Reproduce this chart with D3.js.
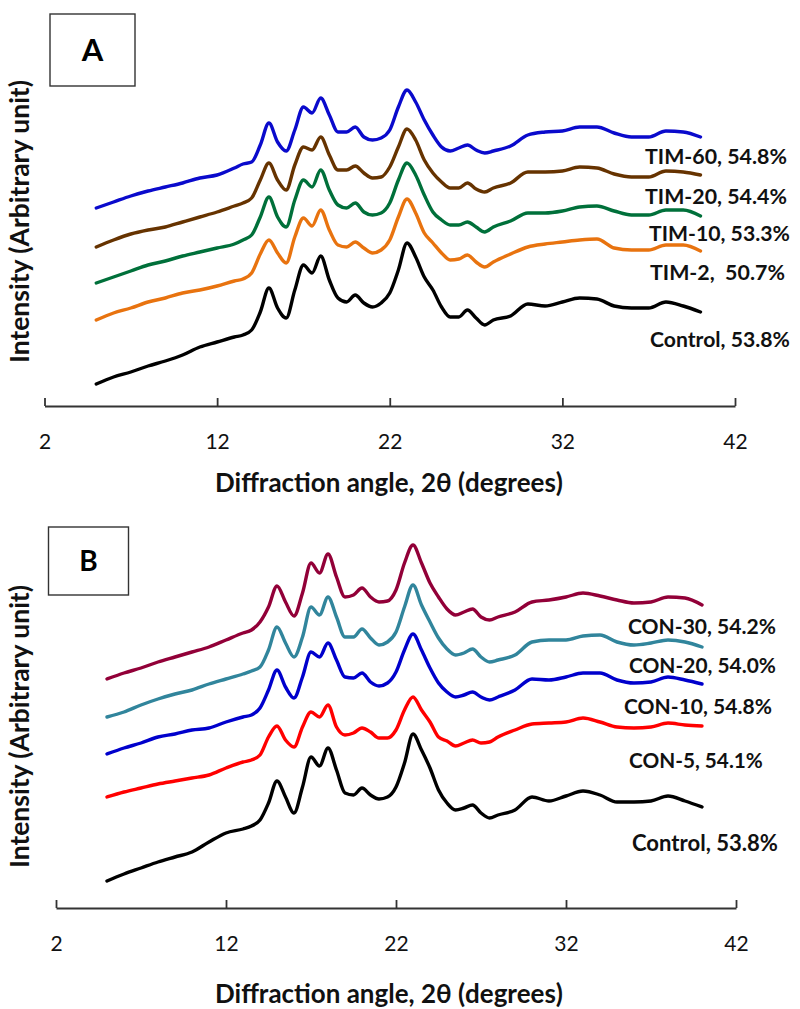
<!DOCTYPE html>
<html>
<head>
<meta charset="utf-8">
<script src="https://cdn.jsdelivr.net/npm/d3@7"></script>
<style>
  html, body { margin: 0; padding: 0; background: #fff; }
  svg { display: block; font-family: Lato, "Open Sans", sans-serif; }
</style>
</head>
<body>
<svg id="chart" width="800" height="1009"></svg>
<script>
// 2θ sampling shared by every pattern
const theta = [5,6,7,8,9,10,11,12,13,13.5,14,14.5,15,15.5,16,16.5,17,17.5,18,18.5,19,19.5,20,20.5,21,21.5,22,22.5,23,23.5,24,24.5,25,25.5,26,26.5,27,27.5,28,29,30,31,32,33,34,35,36,37,38,39,40];

// Panel A – stacked intensities (arbitrary units, offset applied)
const tim60 = [198,204,210,215,219,223,228,231,238,242,244,261,283,264,255,276,299,293,308,291,274,274,279,269,266,268,276,299,316,304,286,271,259,255,258,261,256,253,255,260,271,274,275,279,279,273,269,269,275,274,269];
const tim20 = [159,166,172,176,179,184,189,194,200,203,208,226,243,226,216,241,259,256,269,251,236,236,240,233,228,229,239,259,277,266,246,233,224,218,218,223,217,214,218,223,234,234,235,239,238,232,229,229,235,234,231];
const tim10 = [123,129,135,141,145,150,154,158,162,166,171,189,209,189,179,206,226,219,236,216,201,198,203,194,191,193,203,226,243,231,211,194,186,181,181,184,179,174,179,185,193,193,195,199,200,195,191,191,196,196,190];
const tim2 = [86,93,98,104,108,113,116,120,125,127,133,152,166,153,143,169,188,180,196,176,161,159,164,158,153,156,166,189,207,193,173,163,153,146,147,151,144,139,144,152,159,162,164,166,167,158,156,156,161,161,155];
const controlA = [22,29,34,40,45,51,59,64,69,71,76,94,118,98,88,116,141,133,150,126,108,104,111,103,99,103,113,136,163,149,129,116,99,89,89,96,88,81,86,90,102,100,104,108,107,100,98,98,104,100,94];

// Panel B – stacked intensities (arbitrary units, offset applied)
const con30 = [229,235,240,246,251,256,261,268,275,278,286,301,322,306,292,315,345,335,354,331,311,313,320,311,306,307,318,345,363,345,325,311,299,293,296,299,291,288,291,296,306,308,311,315,312,308,305,306,311,310,303];
const con20 = [191,196,203,209,214,218,224,229,234,237,241,258,281,265,251,271,301,293,311,291,271,271,279,270,263,266,276,301,323,303,286,270,259,253,255,259,251,246,248,253,266,268,268,272,273,266,263,265,268,266,261];
const con10 = [154,160,165,171,174,178,180,186,191,193,200,218,238,221,210,231,256,251,265,248,231,230,235,226,222,225,236,258,274,258,240,225,216,211,213,216,211,208,211,218,229,228,231,235,235,228,225,226,231,228,224];
const con5 = [111,116,120,124,127,130,133,140,146,148,153,171,182,168,161,181,196,191,203,181,173,175,180,176,170,170,178,198,211,198,186,171,167,162,165,168,165,166,171,178,184,185,186,190,186,181,180,181,185,183,182];
const controlB = [27,34,40,46,51,56,66,75,79,82,88,105,127,111,95,121,151,142,160,138,115,113,120,113,109,111,121,145,174,158,140,118,105,98,100,103,95,90,93,98,111,107,112,117,113,106,106,107,112,107,101];

// Series names and axis ticks
const namesA = ["TIM-60, 54.8%", "TIM-20, 54.4%", "TIM-10, 53.3%", "TIM-2,  50.7%", "Control, 53.8%"];
const namesB = ["CON-30, 54.2%", "CON-20, 54.0%", "CON-10, 54.8%", "CON-5, 54.1%", "Control, 53.8%"];
const xTicks = [2, 12, 22, 32, 42];
const xTitle = "Diffraction angle, 2θ (degrees)";
const yTitle = "Intensity (Arbitrary unit)";

// ---- layout & styles ----
const panels = [
  {
    letter: "A",
    series: [tim60, tim20, tim10, tim2, controlA],
    names: namesA,
    colors: ["#0a0acc", "#663300", "#00703a", "#e8730f", "#000000"],
    xRange: [44.5, 735], yRange: [406, 56],
    box: {x: 50, y: 14, w: 85, h: 72, fs: 31},
    labels: [{x: 645, y: 164, w: 142}, {x: 645, y: 204, w: 142}, {x: 649, y: 241, w: 141}, {x: 650, y: 280, w: 135}, {x: 650, y: 347, w: 140}],
    xTitleY: 492, yTitleY: 221.5
  },
  {
    letter: "B",
    series: [con30, con20, con10, con5, controlB],
    names: namesB,
    colors: ["#920038", "#31859c", "#0000cc", "#ff0000", "#000000"],
    xRange: [56, 736], yRange: [908, 558],
    box: {x: 48.5, y: 527, w: 80, h: 68, fs: 28},
    labels: [{x: 628, y: 634, w: 148}, {x: 629, y: 673, w: 147}, {x: 624, y: 714, w: 148}, {x: 629, y: 768, w: 134}, {x: 632, y: 851, w: 146}],
    xTitleY: 1003, yTitleY: 726.5
  }
];

const svg = d3.select("#chart");

function fitWidth(sel, w) {
  const len = sel.node().getComputedTextLength();
  const fs = parseFloat(sel.attr("font-size"));
  if (len > 0) sel.attr("font-size", fs * w / len);
}

panels.forEach(p => {
  const x = d3.scaleLinear().domain([2, 42]).range(p.xRange);
  const y = d3.scaleLinear().domain([0, 350]).range(p.yRange);
  const g = svg.append("g");

  // x axis with inward ticks
  const axis = d3.axisBottom(x).tickValues(xTicks).tickSizeInner(-8).tickSizeOuter(0).tickPadding(28).tickFormat(d3.format("d"));
  const ax = g.append("g").attr("transform", `translate(0,${p.yRange[0]})`).call(axis);
  ax.select(".domain").attr("stroke", "#333").attr("stroke-width", 1.8);
  ax.selectAll(".tick line").attr("stroke", "#333").attr("stroke-width", 1.8);
  ax.selectAll(".tick text").attr("fill", "#111").attr("font-size", 21).attr("font-family", "Lato, sans-serif");

  // patterns
  const line = d3.line().x((d, i) => x(theta[i])).y(d => y(d)).curve(d3.curveMonotoneX);
  p.series.forEach((s, i) => {
    g.append("path").datum(s).attr("d", line)
      .attr("fill", "none").attr("stroke", p.colors[i]).attr("stroke-width", 3.4)
      .attr("stroke-linejoin", "round").attr("stroke-linecap", "round");
  });

  // series labels
  p.names.forEach((n, i) => {
    const L = p.labels[i];
    const t = g.append("text").attr("x", L.x).attr("y", L.y)
      .attr("font-size", 22).attr("font-weight", "bold").attr("fill", "#111")
      .style("white-space", "pre").text(n);
    fitWidth(t, L.w);
  });

  // panel letter box
  g.append("rect").attr("x", p.box.x).attr("y", p.box.y).attr("width", p.box.w).attr("height", p.box.h)
    .attr("fill", "#fff").attr("stroke", "#333").attr("stroke-width", 1.4);
  g.append("text").attr("x", p.box.x + p.box.w / 2).attr("y", p.box.y + p.box.h / 2)
    .attr("dy", "0.36em").attr("text-anchor", "middle").attr("font-size", p.box.fs)
    .attr("font-weight", "bold").attr("fill", "#000").text(p.letter);

  // axis titles
  const xt = g.append("text").attr("x", 389).attr("y", p.xTitleY).attr("text-anchor", "middle")
    .attr("font-size", 23).attr("font-weight", "bold").attr("fill", "#111").text(xTitle);
  fitWidth(xt, 348);
  const yt = g.append("text").attr("transform", `translate(29,${p.yTitleY}) rotate(-90)`)
    .attr("text-anchor", "middle").attr("font-size", 22).attr("font-weight", "bold").attr("fill", "#111").text(yTitle);
  fitWidth(yt, 283);
});
</script>
</body>
</html>
